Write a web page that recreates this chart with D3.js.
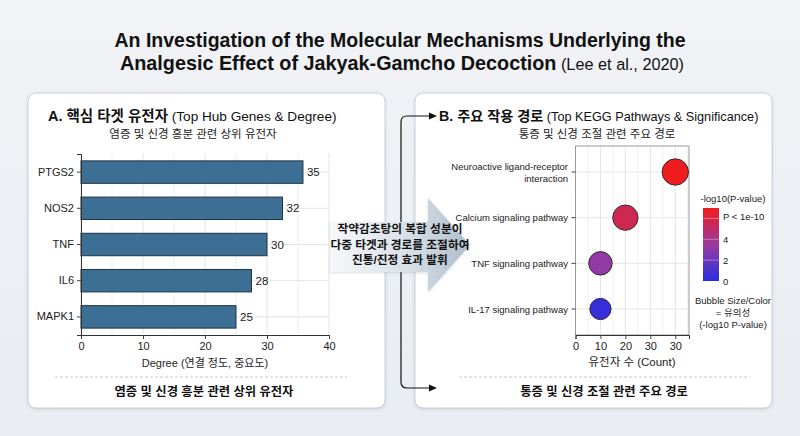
<!DOCTYPE html>
<html>
<head>
<meta charset="utf-8">
<script src="https://cdn.jsdelivr.net/npm/d3@7"></script>
<style>
  html, body { margin: 0; padding: 0; }
  body { width: 800px; height: 436px; overflow: hidden; }
  svg { display: block; font-family: "Liberation Sans", Arial, "Noto Sans CJK KR", sans-serif; }
</style>
</head>
<body>
<svg id="chart" width="800" height="436"></svg>
<script>
// ---- data ----
var genes = ['PTGS2', 'NOS2', 'TNF', 'IL6', 'MAPK1'];
var degreeBars = [35.8, 32.5, 30, 27.5, 25];      // drawn bar lengths
var degreeLabels = ['35', '32', '30', '28', '25']; // printed labels
var degreeTicks = [0, 10, 20, 30, 40];

var pathways = ['Neuroactive ligand-receptor interaction', 'Calcium signaling pathway',
  'TNF signaling pathway', 'IL-17 signaling pathway'];
var pathwayLines = [['Neuroactive ligand-receptor', 'interaction'], ['Calcium signaling pathway'],
  ['TNF signaling pathway'], ['IL-17 signaling pathway']];
var geneCounts = [40, 20, 10, 10];
var logP = [6.9, 5.6, 3.2, 0.3];
var countTicks = [0, 10, 20, 30, 40];
var countTickLabels = ['0', '10', '20', '30', '30'];
var legendTicks = [0, 2, 4];

var svg = d3.select('#chart');
var KR = '"Liberation Sans", Arial, "Noto Sans CJK KR", sans-serif';

// background
var defs = svg.append('defs');
var bg = defs.append('linearGradient').attr('id', 'bg').attr('x1', 0).attr('y1', 0).attr('x2', 0).attr('y2', 1);
bg.append('stop').attr('offset', '0%').attr('stop-color', '#f1f3f6');
bg.append('stop').attr('offset', '100%').attr('stop-color', '#e9edf2');
svg.append('rect').attr('width', 800).attr('height', 436).attr('fill', 'url(#bg)');

var shadow = defs.append('filter').attr('id', 'shadow').attr('x', '-10%').attr('y', '-10%').attr('width', '120%').attr('height', '120%');
shadow.append('feDropShadow').attr('dx', 0).attr('dy', 1).attr('stdDeviation', 1.5).attr('flood-color', '#8090a0').attr('flood-opacity', 0.3);

// title
var title = svg.append('text').attr('text-anchor', 'middle').attr('fill', '#111');
title.append('tspan').attr('x', 400).attr('y', 47).attr('font-weight', 'bold').attr('font-size', 19.5)
  .text('An Investigation of the Molecular Mechanisms Underlying the');
var t2 = title.append('tspan').attr('x', 402).attr('y', 70);
t2.append('tspan').attr('font-weight', 'bold').attr('font-size', 19.8).text('Analgesic Effect of Jakyak-Gamcho Decoction');
t2.append('tspan').attr('font-size', 16.3).text(' (Lee et al., 2020)');

// panels
[[28, 385], [415, 772]].forEach(function (p) {
  svg.append('rect').attr('x', p[0]).attr('y', 93).attr('width', p[1] - p[0]).attr('height', 315)
    .attr('rx', 8).attr('fill', '#fff').attr('stroke', '#c9d1da').attr('stroke-width', 1)
    .attr('filter', 'url(#shadow)');
});

// ---------- Panel A : bar chart ----------
var xA = d3.scaleLinear().domain([0, 40]).range([81, 329]);
var yA = d3.scaleBand().domain(genes).range([154, 335]).paddingInner(0.38).paddingOuter(0.19);
var gA = svg.append('g');

var ta = gA.append('text').attr('x', 48).attr('y', 121).attr('fill', '#111');
ta.append('tspan').attr('font-weight', 'bold').attr('font-size', 14.5).text('A. 핵심 타겟 유전자');
ta.append('tspan').attr('font-size', 13.6).text(' (Top Hub Genes & Degree)');
gA.append('text').attr('x', 193).attr('y', 138).attr('text-anchor', 'middle').attr('font-size', 11.5)
  .attr('fill', '#222').text('염증 및 신경 흥분 관련 상위 유전자');

// grid
gA.selectAll('.vg').data(d3.range(0, 41, 5)).enter().append('line')
  .attr('x1', function (d) { return xA(d); }).attr('x2', function (d) { return xA(d); })
  .attr('y1', 153).attr('y2', 335)
  .attr('stroke', function (d) { return d % 10 === 0 ? '#e4e4e4' : '#efefef'; }).attr('stroke-width', 1);
gA.selectAll('.hg').data(genes).enter().append('line')
  .attr('x1', xA(0)).attr('x2', xA(40))
  .attr('y1', function (d) { return yA(d) + yA.bandwidth() / 2; })
  .attr('y2', function (d) { return yA(d) + yA.bandwidth() / 2; })
  .attr('stroke', '#e4e4e4');

gA.selectAll('.bar').data(genes).enter().append('rect')
  .attr('x', xA(0))
  .attr('y', function (d) { return yA(d); })
  .attr('width', function (d, i) { return xA(degreeBars[i]) - xA(0); })
  .attr('height', yA.bandwidth())
  .attr('fill', '#3c6f93').attr('stroke', '#1e3546').attr('stroke-width', 1);

gA.selectAll('.val').data(genes).enter().append('text')
  .attr('x', function (d, i) { return xA(degreeBars[i]) + 4; })
  .attr('y', function (d) { return yA(d) + yA.bandwidth() / 2 + 4; })
  .attr('font-size', 11.5).attr('fill', '#222')
  .text(function (d, i) { return degreeLabels[i]; });

var axA = gA.append('g').attr('transform', 'translate(0,335)')
  .call(d3.axisBottom(xA).tickValues(degreeTicks).tickSize(4).tickPadding(3));
var ayA = gA.append('g').attr('transform', 'translate(81,0)')
  .call(d3.axisLeft(yA).tickSize(4).tickPadding(3));
[axA, ayA].forEach(function (a) {
  a.selectAll('text').attr('font-size', 11).attr('fill', '#222').attr('font-family', KR);
  a.selectAll('line').attr('stroke', '#444');
  a.select('.domain').attr('stroke', '#333');
});
gA.append('text').attr('x', 205).attr('y', 367).attr('text-anchor', 'middle').attr('font-size', 11)
  .attr('fill', '#222').text('Degree (연결 정도, 중요도)');
gA.append('line').attr('x1', 55).attr('x2', 347).attr('y1', 377).attr('y2', 377)
  .attr('stroke', '#c8c8c8').attr('stroke-dasharray', '3,2');
gA.append('text').attr('x', 204).attr('y', 396).attr('text-anchor', 'middle').attr('font-size', 12.3)
  .attr('font-weight', 'bold').attr('fill', '#111').text('염증 및 신경 흥분 관련 상위 유전자');

// ---------- Panel B : bubble chart ----------
var xB = d3.scaleLinear().domain([0, 45.5]).range([575.5, 689]);
var yB = d3.scalePoint().domain(pathways).range([172, 309]);
var rB = d3.scaleLinear().domain([0, 7]).range([10.5, 13.2]);
var cB = d3.scaleLinear().domain([0, 3.5, 7]).range(['#2a2ee0', '#9b3a9f', '#f21c1c']);
var gB = svg.append('g');

var tb = gB.append('text').attr('x', 439).attr('y', 121).attr('fill', '#111');
tb.append('tspan').attr('font-weight', 'bold').attr('font-size', 14.2).text('B. 주요 작용 경로');
tb.append('tspan').attr('font-size', 12.7).text(' (Top KEGG Pathways & Significance)');
gB.append('text').attr('x', 597).attr('y', 138).attr('text-anchor', 'middle').attr('font-size', 11.5)
  .attr('fill', '#222').text('통증 및 신경 조절 관련 주요 경로');

gB.selectAll('.vg').data(d3.range(0, 46, 5)).enter().append('line')
  .attr('x1', function (d) { return xB(d); }).attr('x2', function (d) { return xB(d); })
  .attr('y1', 146).attr('y2', 335)
  .attr('stroke', function (d) { return d % 10 === 0 ? '#e4e4e4' : '#efefef'; });
gB.selectAll('.hg').data(pathways).enter().append('line')
  .attr('x1', 575.5).attr('x2', 689)
  .attr('y1', function (d) { return yB(d); }).attr('y2', function (d) { return yB(d); })
  .attr('stroke', '#e6e6e6');
gB.append('rect').attr('x', 575.5).attr('y', 146).attr('width', 689 - 575.5).attr('height', 335 - 146)
  .attr('fill', 'none').attr('stroke', '#9a9a9a').attr('stroke-width', 1);

gB.selectAll('.bub').data(pathways).enter().append('circle')
  .attr('cx', function (d, i) { return xB(geneCounts[i]); })
  .attr('cy', function (d) { return yB(d); })
  .attr('r', function (d, i) { return rB(logP[i]); })
  .attr('fill', function (d, i) { return cB(logP[i]); })
  .attr('stroke', '#3a2a30').attr('stroke-width', 1);

var axB = gB.append('g').attr('transform', 'translate(0,335)')
  .call(d3.axisBottom(xB).tickValues(countTicks).tickSize(4).tickPadding(3)
    .tickFormat(function (d, i) { return countTickLabels[i]; }));
axB.selectAll('text').attr('font-size', 11).attr('fill', '#222');
axB.selectAll('line').attr('stroke', '#444');
axB.select('.domain').attr('stroke', '#333');

var ayB = gB.append('g');
ayB.selectAll('.tk').data(pathways).enter().append('line')
  .attr('x1', 571.5).attr('x2', 575.5)
  .attr('y1', function (d) { return yB(d); }).attr('y2', function (d) { return yB(d); })
  .attr('stroke', '#444');
ayB.selectAll('.lb').data(pathways).enter().append('text')
  .attr('text-anchor', 'end').attr('font-size', 9.5).attr('fill', '#222')
  .each(function (d, i) {
    var lines = pathwayLines[i], n = lines.length;
    d3.select(this).selectAll('tspan').data(lines).enter().append('tspan')
      .attr('x', 568)
      .attr('y', function (l, j) { return yB(d) + 3.5 + (j - (n - 1) / 2) * 12; })
      .text(function (l) { return l; });
  });

gB.append('text').attr('x', 632).attr('y', 366).attr('text-anchor', 'middle').attr('font-size', 11.5)
  .attr('fill', '#222').text('유전자 수 (Count)');
gB.append('line').attr('x1', 459).attr('x2', 750).attr('y1', 377).attr('y2', 377)
  .attr('stroke', '#c8c8c8').attr('stroke-dasharray', '3,2');
gB.append('text').attr('x', 604).attr('y', 396).attr('text-anchor', 'middle').attr('font-size', 12.3)
  .attr('font-weight', 'bold').attr('fill', '#111').text('통증 및 신경 조절 관련 주요 경로');

// colour legend
var yL = d3.scaleLinear().domain([0, 7]).range([281, 208]);
var lg = defs.append('linearGradient').attr('id', 'cbar').attr('x1', 0).attr('y1', 1).attr('x2', 0).attr('y2', 0);
d3.range(0, 7.01, 0.5).forEach(function (v) {
  lg.append('stop').attr('offset', (v / 7 * 100) + '%').attr('stop-color', cB(v));
});
gB.append('text').attr('x', 733).attr('y', 202).attr('text-anchor', 'middle').attr('font-size', 9.5)
  .attr('fill', '#222').text('-log10(P-value)');
gB.append('rect').attr('x', 703).attr('y', yL(7)).attr('width', 16).attr('height', yL(0) - yL(7))
  .attr('fill', 'url(#cbar)');
gB.selectAll('.lt').data(legendTicks.concat([6])).enter().append('line')
  .attr('x1', 703).attr('x2', 719)
  .attr('y1', function (d) { return yL(d); }).attr('y2', function (d) { return yL(d); })
  .attr('stroke', '#fff').attr('stroke-opacity', function (d) { return d === 0 ? 0 : 0.35; });
gB.selectAll('.ll').data(legendTicks).enter().append('text')
  .attr('x', 723).attr('y', function (d) { return yL(d) + 3.5; })
  .attr('font-size', 9.5).attr('fill', '#222').text(function (d) { return d; });
gB.append('text').attr('x', 723).attr('y', yL(6.2) + 3.5).attr('font-size', 9.5).attr('fill', '#222')
  .text('P < 1e-10');
var note = gB.append('text').attr('text-anchor', 'middle').attr('font-size', 9.5).attr('fill', '#222');
['Bubble Size/Color', '= 유의성', '(-log10 P-value)'].forEach(function (l, i) {
  note.append('tspan').attr('x', 733).attr('y', 304 + i * 12).text(l);
});

// ---------- connector + central arrow ----------
var con = svg.append('g').attr('fill', 'none').attr('stroke', '#111').attr('stroke-width', 1.2);
con.append('path').attr('d', 'M431,116 H407 Q401,116 401,122 V382 Q401,388 407,388 H431');
[116, 388].forEach(function (y) {
  svg.append('path').attr('d', 'M437,' + y + ' L429,' + (y - 3.5) + ' L429,' + (y + 3.5) + ' Z').attr('fill', '#111');
});

var ag = defs.append('linearGradient').attr('id', 'arrowg').attr('x1', 0).attr('y1', 0).attr('x2', 1).attr('y2', 0);
ag.append('stop').attr('offset', '0%').attr('stop-color', '#f7f8fa');
ag.append('stop').attr('offset', '55%').attr('stop-color', '#d8e0e7');
ag.append('stop').attr('offset', '100%').attr('stop-color', '#aebdca');
svg.append('path')
  .attr('d', 'M330,222 H428 V198 L470,245 L428,292 V272 H330 Z')
  .attr('fill', 'url(#arrowg)').attr('filter', 'url(#shadow)');
var at = svg.append('text').attr('text-anchor', 'middle').attr('font-size', 11.7).attr('font-weight', 'bold')
  .attr('fill', '#111');
['작약감초탕의 복합 성분이', '다중 타겟과 경로를 조절하여', '진통/진정 효과 발휘'].forEach(function (l, i) {
  at.append('tspan').attr('x', 400).attr('y', 233 + i * 15.5).text(l);
});
</script>
</body>
</html>
